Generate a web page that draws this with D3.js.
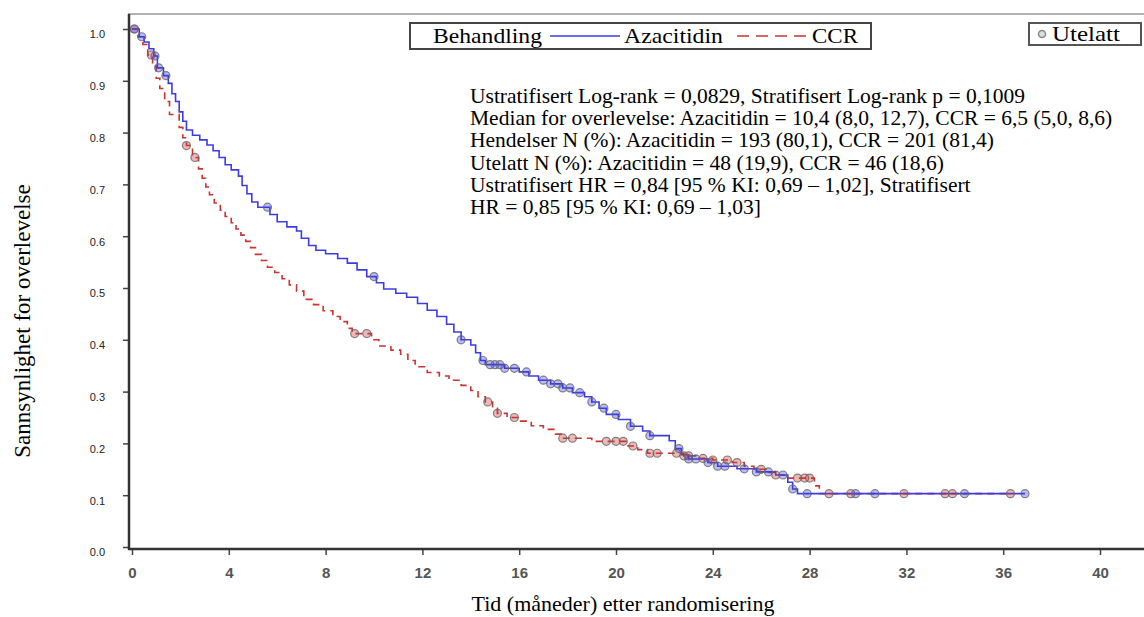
<!DOCTYPE html>
<html>
<head>
<meta charset="utf-8">
<script src="https://cdn.jsdelivr.net/npm/d3@7"></script>
<style>
  body { margin: 0; background: #fff; }
  svg { display: block; }
</style>
</head>
<body>
<svg width="1144" height="617"></svg>
<script>
// Kaplan-Meier steps (months, survival)
const azaTimes = [0, 0.3, 0.5, 0.7, 0.9, 1.05, 1.3, 1.5, 1.65, 1.8, 1.95, 2.1, 2.25, 2.5, 2.8, 3.1, 3.35, 3.6, 3.85, 4.1, 4.4, 4.55, 4.75, 4.95, 5.2, 5.7, 6.0, 6.4, 6.8, 7.0, 7.3, 7.6, 8.0, 8.5, 8.9, 9.3, 9.7, 10.1, 10.4, 10.9, 11.35, 11.8, 12.2, 12.6, 13.0, 13.3, 13.6, 14.0, 14.2, 14.4, 14.6, 15.4, 16.0, 16.4, 16.8, 17.3, 17.8, 18.2, 18.7, 19.0, 19.3, 19.6, 20.1, 20.6, 21.1, 21.4, 22.2, 22.45, 22.7, 23.0, 23.8, 24.2, 25.0, 25.8, 26.6, 27.1, 27.3, 27.5, 36.9];
const azaSurv = [1.0, 0.985, 0.975, 0.962, 0.948, 0.925, 0.91, 0.895, 0.875, 0.86, 0.84, 0.822, 0.805, 0.795, 0.786, 0.776, 0.765, 0.752, 0.738, 0.728, 0.716, 0.698, 0.682, 0.666, 0.656, 0.642, 0.628, 0.618, 0.61, 0.596, 0.582, 0.573, 0.566, 0.557, 0.548, 0.535, 0.522, 0.51, 0.498, 0.49, 0.482, 0.47, 0.457, 0.445, 0.43, 0.415, 0.40, 0.39, 0.375, 0.36, 0.352, 0.345, 0.338, 0.33, 0.322, 0.315, 0.307, 0.298, 0.29, 0.28, 0.268, 0.256, 0.246, 0.233, 0.224, 0.215, 0.205, 0.19, 0.178, 0.17, 0.163, 0.156, 0.151, 0.145, 0.139, 0.125, 0.112, 0.103, 0.103];
const azaCensor = [0.1, 0.4, 0.95, 1.1, 1.4, 5.6, 10.0, 13.6, 14.5, 14.8, 15.0, 15.2, 15.4, 15.8, 16.3, 17.0, 17.3, 17.6, 17.8, 18.1, 18.5, 19.0, 19.5, 20.0, 20.6, 21.4, 22.6, 23.0, 23.3, 23.8, 24.2, 24.5, 25.3, 25.8, 26.3, 26.9, 27.3, 27.9, 29.9, 30.7, 34.4, 36.9];

const ccrTimes = [0, 0.25, 0.45, 0.65, 0.85, 1.0, 1.15, 1.35, 1.55, 1.95, 2.1, 2.25, 2.5, 2.75, 2.9, 3.05, 3.2, 3.4, 3.65, 3.85, 4.1, 4.3, 4.5, 4.7, 4.9, 5.1, 5.35, 5.6, 5.9, 6.2, 6.5, 6.8, 7.1, 7.5, 7.9, 8.3, 8.6, 8.9, 9.1, 9.9, 10.2, 10.7, 11.1, 11.4, 11.7, 12.2, 12.7, 13.1, 13.6, 14.0, 14.3, 14.6, 14.9, 15.1, 15.5, 16.0, 16.5, 17.0, 17.5, 17.75, 19.0, 20.5, 20.9, 21.3, 22.8, 23.3, 24.0, 24.8, 25.3, 25.7, 26.2, 26.6, 27.1, 28.2, 28.4, 36.3];
const ccrSurv = [1.0, 0.985, 0.97, 0.95, 0.928, 0.905, 0.885, 0.86, 0.835, 0.81, 0.79, 0.775, 0.752, 0.73, 0.712, 0.695, 0.68, 0.664, 0.65, 0.638, 0.626, 0.614, 0.602, 0.59, 0.578, 0.565, 0.553, 0.54, 0.53, 0.518, 0.506, 0.494, 0.478, 0.468, 0.456, 0.445, 0.435, 0.422, 0.412, 0.4, 0.388, 0.38, 0.372, 0.36, 0.348, 0.337, 0.33, 0.322, 0.312, 0.302, 0.29, 0.28, 0.268, 0.258, 0.25, 0.243, 0.234, 0.227, 0.218, 0.21, 0.204, 0.195, 0.188, 0.181, 0.176, 0.171, 0.168, 0.163, 0.156, 0.15, 0.144, 0.139, 0.133, 0.118, 0.103, 0.103];
const ccrCensor = [0.1, 0.8, 2.25, 2.6, 9.2, 9.7, 14.7, 15.1, 15.8, 17.8, 18.2, 19.6, 20.0, 20.3, 20.7, 21.4, 21.7, 22.5, 22.8, 23.0, 23.6, 24.0, 24.6, 25.0, 26.0, 26.6, 27.5, 27.8, 28.0, 28.8, 29.7, 31.9, 33.6, 33.9, 36.3];

const xTicks = [0, 4, 8, 12, 16, 20, 24, 28, 32, 36, 40];
const yTicks = [0, 0.1, 0.2, 0.3, 0.4, 0.5, 0.6, 0.7, 0.8, 0.9, 1.0];

const statLines = [
  "Ustratifisert Log-rank = 0,0829, Stratifisert Log-rank p = 0,1009",
  "Median for overlevelse: Azacitidin = 10,4 (8,0, 12,7), CCR = 6,5 (5,0, 8,6)",
  "Hendelser N (%): Azacitidin = 193 (80,1), CCR = 201 (81,4)",
  "Utelatt N (%): Azacitidin = 48 (19,9), CCR = 46 (18,6)",
  "Ustratifisert HR = 0,84 [95 % KI: 0,69 \u2013 1,02], Stratifisert",
  "HR = 0,85 [95 % KI: 0,69 \u2013 1,03]"
];

const blue = "#3c3ce6";
const red = "#cc3333";
const serif = "'Liberation Serif', 'Times New Roman', serif";
const sans = "'Liberation Sans', Arial, sans-serif";

const svg = d3.select('svg');

const x = d3.scaleLinear().domain([0, 40]).range([132, 1100]);
const y = d3.scaleLinear().domain([0, 1]).range([547, 29]);

// frame top line
svg.append('line')
  .attr('x1', 128).attr('x2', 1144).attr('y1', 14).attr('y2', 14)
  .attr('stroke', '#999').attr('stroke-width', 1.5);

// axes
const yAxis = svg.append('g')
  .attr('transform', 'translate(129,0)')
  .call(d3.axisLeft(y).tickValues(yTicks).tickFormat(d3.format('.1f')).tickSize(6).tickSizeOuter(0));
yAxis.select('.domain').remove();
yAxis.selectAll('.tick line').attr('stroke', '#444').attr('stroke-width', 1.5);
yAxis.selectAll('.tick text')
  .attr('x', -24).attr('dy', '0.8em')
  .attr('font-family', sans).attr('font-size', 11).attr('fill', '#222');

const xAxis = svg.append('g')
  .attr('transform', 'translate(0,549)')
  .call(d3.axisBottom(x).tickValues(xTicks).tickSize(6).tickSizeOuter(0));
xAxis.select('.domain').remove();
xAxis.selectAll('.tick line').attr('stroke', '#444').attr('stroke-width', 1.5);
xAxis.selectAll('.tick text')
  .attr('y', 18)
  .attr('font-family', sans).attr('font-size', 15).attr('font-weight', 'bold').attr('fill', '#555');

svg.append('line')
  .attr('x1', 129).attr('x2', 129).attr('y1', 14).attr('y2', 550)
  .attr('stroke', '#333').attr('stroke-width', 2.5);
svg.append('line')
  .attr('x1', 128).attr('x2', 1144).attr('y1', 549).attr('y2', 549)
  .attr('stroke', '#333').attr('stroke-width', 2.5);

// axis titles
svg.append('text')
  .attr('transform', 'translate(30,321) rotate(-90)')
  .attr('text-anchor', 'middle')
  .attr('font-family', serif).attr('font-size', 23)
  .text('Sannsynlighet for overlevelse');

svg.append('text')
  .attr('x', 623).attr('y', 611)
  .attr('text-anchor', 'middle')
  .attr('font-family', serif).attr('font-size', 22)
  .text('Tid (m\u00e5neder) etter randomisering');

// curves
function stepAt(times, surv, t) {
  let i = d3.bisectRight(times, t) - 1;
  if (i < 0) i = 0;
  return surv[i];
}

const line = d3.line()
  .x(d => x(d[0]))
  .y(d => y(d[1]))
  .curve(d3.curveStepAfter);

const series = [
  { times: ccrTimes, surv: ccrSurv, censor: ccrCensor, color: red, dash: '7,5' },
  { times: azaTimes, surv: azaSurv, censor: azaCensor, color: blue, dash: null }
];

series.forEach(s => {
  svg.append('path')
    .datum(d3.zip(s.times, s.surv))
    .attr('d', line)
    .attr('fill', 'none')
    .attr('stroke', s.color)
    .attr('stroke-width', 1.6)
    .attr('stroke-dasharray', s.dash);
});

series.forEach(s => {
  svg.append('g').selectAll('circle')
    .data(s.censor)
    .join('circle')
    .attr('cx', d => x(d))
    .attr('cy', d => y(stepAt(s.times, s.surv, d)))
    .attr('r', 4)
    .attr('fill', s.color)
    .attr('fill-opacity', 0.35)
    .attr('stroke', '#666')
    .attr('stroke-width', 1.2)
    .attr('stroke-opacity', 0.8);
});

// legend
const leg = svg.append('g');
leg.append('rect')
  .attr('x', 410).attr('y', 23).attr('width', 461).attr('height', 26)
  .attr('fill', '#fff').attr('stroke', '#444').attr('stroke-width', 2);
leg.append('text').attr('x', 433).attr('y', 43)
  .attr('font-family', serif).attr('font-size', 22)
  .attr('textLength', 109).attr('lengthAdjust', 'spacingAndGlyphs').text('Behandling');
leg.append('line').attr('x1', 550).attr('x2', 620).attr('y1', 36).attr('y2', 36)
  .attr('stroke', blue).attr('stroke-width', 1.5);
leg.append('text').attr('x', 624).attr('y', 43)
  .attr('font-family', serif).attr('font-size', 22)
  .attr('textLength', 99).attr('lengthAdjust', 'spacingAndGlyphs').text('Azacitidin');
leg.append('line').attr('x1', 737).attr('x2', 807).attr('y1', 36).attr('y2', 36)
  .attr('stroke', red).attr('stroke-width', 1.5).attr('stroke-dasharray', '12,7');
leg.append('text').attr('x', 812).attr('y', 43)
  .attr('font-family', serif).attr('font-size', 22)
  .attr('textLength', 46).attr('lengthAdjust', 'spacingAndGlyphs').text('CCR');

const leg2 = svg.append('g');
leg2.append('rect')
  .attr('x', 1029).attr('y', 23).attr('width', 112).attr('height', 22)
  .attr('fill', '#fff').attr('stroke', '#555').attr('stroke-width', 2);
leg2.append('circle').attr('cx', 1042).attr('cy', 34).attr('r', 3.5)
  .attr('fill', '#ddd').attr('stroke', '#888').attr('stroke-width', 1.5);
leg2.append('text').attr('x', 1052).attr('y', 41)
  .attr('font-family', serif).attr('font-size', 21)
  .attr('textLength', 68).attr('lengthAdjust', 'spacingAndGlyphs').text('Utelatt');

// statistics text
svg.append('g').selectAll('text')
  .data(statLines)
  .join('text')
  .attr('x', 470)
  .attr('y', (d, i) => 103 + i * 22.2)
  .attr('font-family', serif).attr('font-size', 21.5)
  .text(d => d);
</script>
</body>
</html>
